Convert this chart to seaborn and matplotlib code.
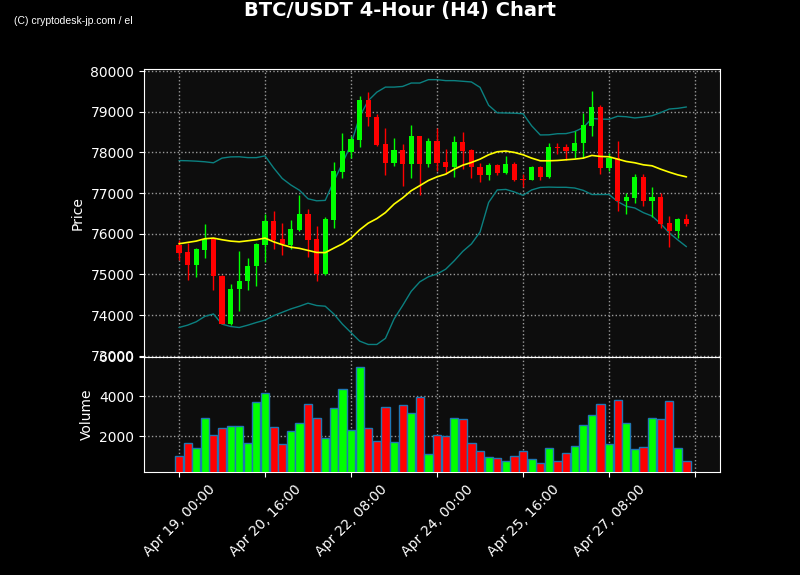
import numpy as np
import pandas as pd
import seaborn as sns
import matplotlib.pyplot as plt
from matplotlib.ticker import FixedLocator, FuncFormatter

# 4-hour candles
start = "2025-04-19 00:00"
opens = [75712, 75539, 75243, 75597, 75877, 74971, 73786, 74634, 74831, 75202,
         75720, 76305, 75860, 75712, 76082, 76477, 75860, 75021, 76337, 77523,
         78000, 78313, 79292, 78880, 78206, 77737, 78058, 77712, 78403, 77712,
         78280, 77761, 77638, 78255, 78058, 77638, 77448, 77687, 77490, 77712,
         77341, 77325, 77638, 77391, 78135, 78140, 78041, 78222, 78658, 79111,
         77621, 77860, 76807, 76881, 77391, 76798, 76897, 76255, 76066, 76354]
highs = [75844, 75761, 75654, 76247, 75901, 74990, 74765, 75580, 75407, 75778,
         76486, 76568, 76272, 76329, 76946, 76617, 76198, 76412, 77753, 78469,
         78411, 79399, 79481, 78950, 78592, 78346, 78197, 78667, 78411, 78346,
         78600, 78082, 78395, 78494, 78074, 77737, 77728, 77712, 77901, 77753,
         77465, 77663, 77654, 78222, 78225, 78206, 78518, 78963, 79506, 79177,
         77984, 78271, 77000, 77457, 77481, 77160, 77000, 76436, 76395, 76494]
lows = [75350, 74873, 74938, 75407, 74609, 73770, 73745, 74091, 74617, 74716,
        75300, 75630, 75473, 75613, 76060, 75424, 74831, 74996, 76148, 77383,
        77860, 78123, 78642, 78170, 77448, 77671, 77185, 77366, 76955, 77646,
        77547, 77481, 77399, 77580, 77383, 77284, 77325, 77448, 77481, 77300,
        77160, 77317, 77325, 77366, 77950, 77811, 77860, 77860, 78411, 77481,
        77547, 76560, 76477, 76765, 76683, 76411, 76148, 75679, 75901, 76189]
closes = [75514, 75243, 75613, 75877, 74955, 73786, 74650, 74848, 75218, 75737,
          76305, 75852, 75737, 76107, 76477, 75844, 75021, 76354, 77539, 78033,
          78329, 79292, 78864, 78190, 77737, 78058, 77712, 78403, 77712, 78280,
          77737, 77646, 78255, 78041, 77630, 77448, 77687, 77490, 77704, 77317,
          77325, 77638, 77391, 78132, 78115, 78041, 78230, 78667, 79111, 77621,
          77860, 76807, 76897, 77391, 76807, 76897, 76230, 76066, 76354, 76239]
volumes = [1000, 1650, 1400, 2900, 2050, 2400, 2500, 2500, 1650, 3720,
           4150, 2450, 1600, 2270, 2650, 3600, 2900, 1900, 3400, 4350,
           2300, 5450, 2400, 1770, 3450, 1700, 3550, 3150, 3950, 1100,
           2050, 2000, 2900, 2850, 1650, 1250, 950, 900, 750, 1000,
           1250, 850, 680, 1400, 750, 1150, 1500, 2550, 3050, 3600,
           1600, 3800, 2650, 1350, 1450, 2900, 2850, 3750, 1400, 750]
sma = [75753, 75786, 75819, 75877, 75893, 75852, 75819, 75802, 75827, 75852,
       75893, 75802, 75730, 75670, 75640, 75590, 75540, 75535, 75645, 75750,
       75890, 76095, 76260, 76372, 76520, 76728, 76880, 77058, 77183, 77310,
       77400, 77465, 77588, 77687, 77753, 77835, 77942, 78016, 78033, 78000,
       77942, 77860, 77794, 77794, 77802, 77819, 77835, 77860, 77926, 77901,
       77893, 77835, 77778, 77745, 77695, 77671, 77588, 77514, 77448, 77399]
bb_upper = [77800, 77795, 77785, 77770, 77745, 77860, 77890, 77893, 77872, 77872,
            77915, 77620, 77360, 77200, 77070, 76860, 76810, 76820, 77290, 77730,
            78200, 78880, 79274, 79482, 79607, 79607, 79623, 79707, 79707, 79790,
            79790, 79766, 79766, 79750, 79733, 79600, 79160, 78975, 78970, 78965,
            78952, 78655, 78430, 78433, 78460, 78463, 78513, 78610, 78836, 78820,
            78815, 78890, 78878, 78848, 78870, 78902, 78980, 79068, 79085, 79118]
bb_lower = [73693, 73751, 73834, 73967, 74026, 73776, 73718, 73693, 73751, 73817,
            73876, 73984, 74067, 74150, 74217, 74292, 74234, 74217, 74026, 73776,
            73567, 73359, 73276, 73276, 73426, 73901, 74234, 74584, 74817, 74942,
            75010, 75126, 75334, 75567, 75750, 76042, 76770, 77077, 77090, 77027,
            76944, 77077, 77139, 77147, 77142, 77142, 77125, 77067, 76965, 76965,
            76965, 76791, 76675, 76633, 76518, 76435, 76249, 76021, 75847, 75681]

df = pd.DataFrame({"open": opens, "high": highs, "low": lows, "close": closes,
                   "volume": volumes, "sma": sma, "upper": bb_upper, "lower": bb_lower})
df["i"] = np.arange(len(df))
df["time"] = pd.date_range(start, periods=len(df), freq="4h")
df["dir"] = np.where(df["close"] >= df["open"], "up", "down")

UP, DOWN = "#00ff00", "#ff0000"
colors = df["dir"].map({"up": UP, "down": DOWN})

sns.set_style("dark", {"axes.facecolor": "#0d0d0d", "figure.facecolor": "black",
                       "axes.edgecolor": "white", "text.color": "white",
                       "axes.labelcolor": "white", "xtick.color": "white",
                       "ytick.color": "white"})

fig = plt.figure(figsize=(8, 5.75), dpi=100)
ax = fig.add_axes([0.18, 0.38, 0.72, 0.4995])
axv = fig.add_axes([0.18, 0.1786, 0.72, 0.2014], sharex=ax)

# candles
ax.vlines(df["i"], df["low"], df["high"], colors=colors, linewidth=1, zorder=3)
ax.bar(df["i"], (df["close"] - df["open"]).abs().clip(lower=12),
       bottom=df[["open", "close"]].min(axis=1), width=0.6, color=colors,
       edgecolor=colors, linewidth=0, zorder=4)

# SMA and Bollinger bands
sns.lineplot(data=df, x="i", y="sma", color="yellow", linewidth=1.2, ax=ax, zorder=5)
sns.lineplot(data=df, x="i", y="upper", color="#0b8080", linewidth=1, ax=ax, zorder=2)
sns.lineplot(data=df, x="i", y="lower", color="#0b8080", linewidth=1, ax=ax, zorder=2)

# volume
sns.barplot(data=df, x="i", y="volume", hue="dir", palette={"up": UP, "down": DOWN},
            native_scale=True, dodge=False, width=0.95, saturation=1,
            edgecolor="#1f77b4", linewidth=1, legend=False, ax=axv, zorder=3)

for a in (ax, axv):
    a.grid(True, color="#9a9a9a", linestyle=":", linewidth=1)
    for s in a.spines.values():
        s.set_color("white")
    a.tick_params(colors="white", left=True, bottom=True, labelsize=10)

ax.set_xlim(-4.07, 62.9)
ax.set_ylim(72980, 80045)
axv.set_ylim(200, 6000)
axv.set_yticks([2000, 4000, 6000])
ax.set_ylabel("Price", fontsize=10)
axv.set_ylabel("Volume", fontsize=10)
ax.set_xlabel("")
axv.set_xlabel("")
ax.tick_params(labelbottom=False)

times = list(df["time"])


def fmt(v, pos):
    k = int(round(v))
    if 0 <= k < len(times):
        return times[k].strftime("%b %d, %H:%M")
    return ""


axv.xaxis.set_major_locator(FixedLocator(np.arange(0, 61, 10)))
axv.xaxis.set_major_formatter(FuncFormatter(fmt))
plt.setp(axv.get_xticklabels(), rotation=45)

fig.text(0.5, 0.981, "BTC/USDT 4-Hour (H4) Chart", ha="center", va="center",
         fontsize=14, fontweight="bold", color="white")
fig.text(0.018, 0.963, "(C) cryptodesk-jp.com / el", ha="left", va="center",
         fontsize=7.5, color="white",
         family=["Liberation Sans Narrow", "Liberation Sans", "DejaVu Sans"])

fig.savefig("out.png", dpi=100, facecolor="black")
